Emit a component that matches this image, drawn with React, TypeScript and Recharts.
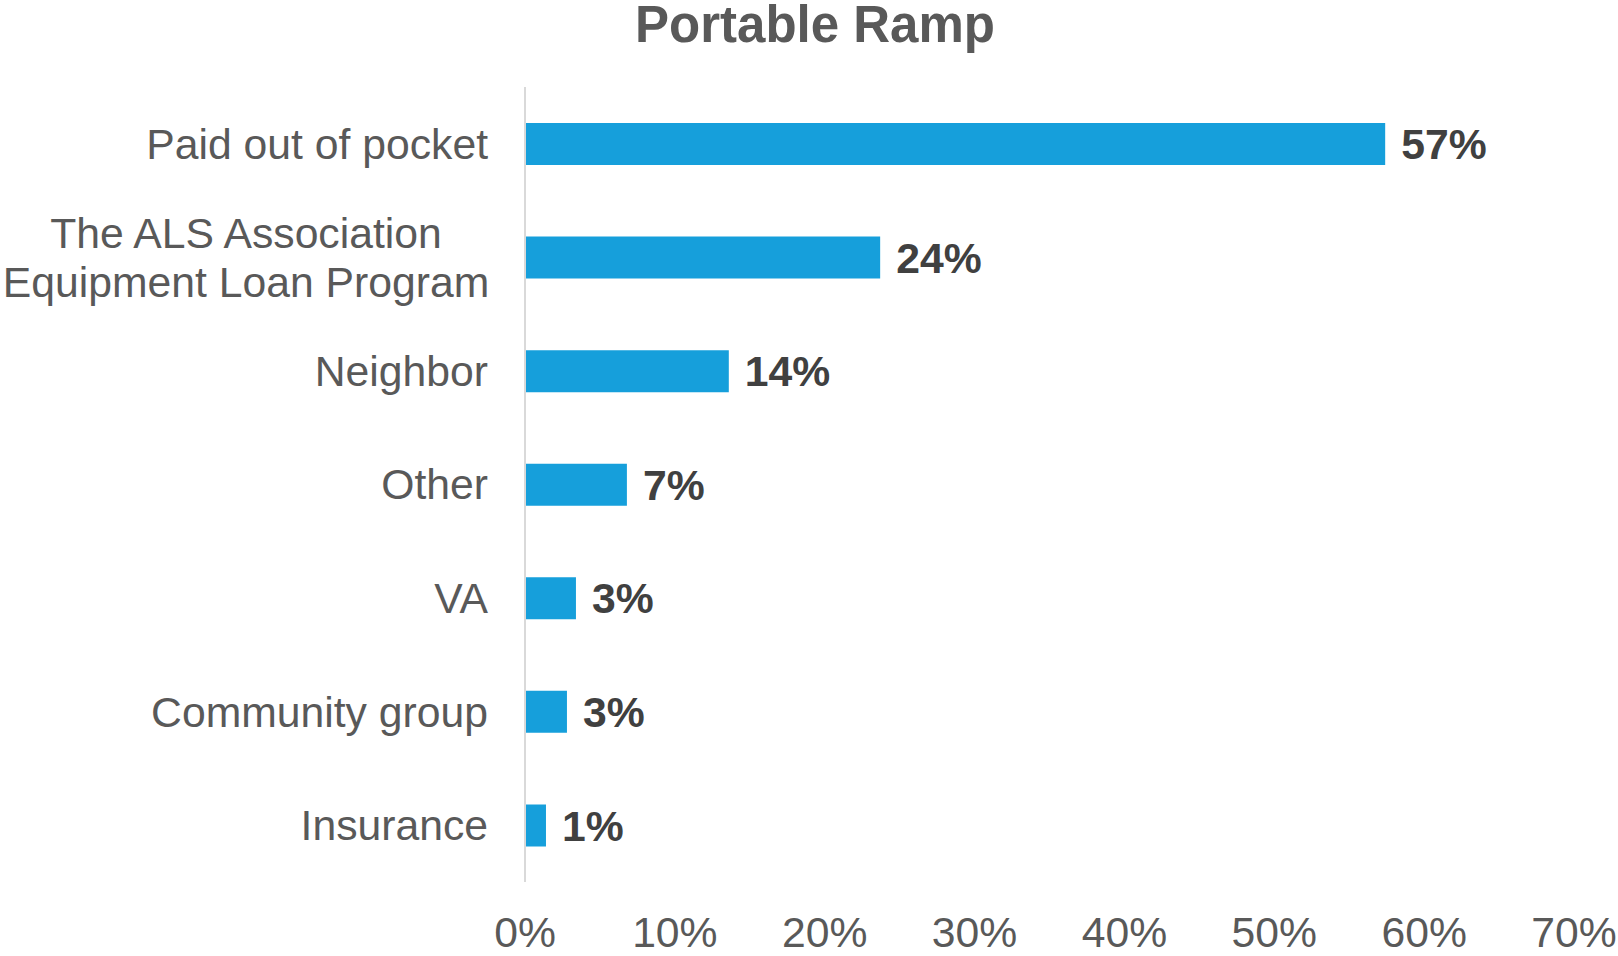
import React from "react"
import { BarChart, Bar, XAxis, YAxis, LabelList } from "recharts"

document.body.style.margin = "0"

const categories = [
  "Paid out of pocket",
  "The ALS Association\nEquipment Loan Program",
  "Neighbor",
  "Other",
  "VA",
  "Community group",
  "Insurance",
]
const shares = [57.4, 23.7, 13.6, 6.8, 3.4, 2.8, 1.4]
const xTicks = [0, 10, 20, 30, 40, 50, 60, 70]

const data = categories.map((name, i) => ({ name, value: shares[i] }))

const FONT = "'Liberation Sans', Arial, sans-serif"
const GREY = "#595959"
const SIZE = 42.7

function CategoryTick(props: any) {
  const { x, y, payload } = props
  const lines = String(payload.value).split("\n")
  const lineGap = 49.5
  const start = -((lines.length - 1) * lineGap) / 2
  // multi-line labels: lines centred on each other, block right-aligned
  return (
    <g>
      {lines.map((line, i) => (
        <text
          key={i}
          x={lines.length > 1 ? x - 37 - 242 : x - 37}
          y={y + start + i * lineGap}
          dy="0.35em"
          textAnchor={lines.length > 1 ? "middle" : "end"}
          fontSize={SIZE}
          fontFamily={FONT}
          fill={GREY}
        >
          {line}
        </text>
      ))}
    </g>
  )
}

function PercentTick(props: any) {
  const { x, y, payload } = props
  return (
    <text x={x} y={y + 65} textAnchor="middle" fontSize={SIZE} fontFamily={FONT} fill={GREY}>
      {`${payload.value}%`}
    </text>
  )
}

export default function App() {
  return (
    <div style={{ position: "relative", width: 1618, height: 956, background: "#fff" }}>
      <BarChart
        width={1618}
        height={956}
        data={data}
        layout="vertical"
        margin={{ top: 87, right: 44, bottom: 0, left: 0 }}
      >
        <XAxis
          type="number"
          domain={[0, 70]}
          ticks={xTicks}
          axisLine={false}
          tickLine={false}
          tickSize={0}
          tickMargin={0}
          height={74}
          interval={0}
          tick={<PercentTick />}
        />
        <YAxis
          type="category"
          dataKey="name"
          width={525}
          axisLine={{ stroke: "#d9d9d9", strokeWidth: 2 }}
          tickLine={false}
          tickSize={0}
          tickMargin={0}
          interval={0}
          tick={<CategoryTick />}
        />
        <Bar dataKey="value" fill="#169fdb" barSize={42} isAnimationActive={false}>
          <LabelList
            dataKey="value"
            position="right"
            offset={16}
            formatter={(v: any) => `${Math.round(Number(v))}%`}
            fill="#404040"
            fontSize={SIZE}
            fontWeight="bold"
            fontFamily={FONT}
          />
        </Bar>
      </BarChart>
      <svg width={1618} height={70} style={{ position: "absolute", left: 0, top: 0 }}>
        <text x={815} y={42} textAnchor="middle" fontSize={51} fontWeight="bold" fontFamily={FONT} fill={GREY}>
          Portable Ramp
        </text>
      </svg>
    </div>
  )
}
